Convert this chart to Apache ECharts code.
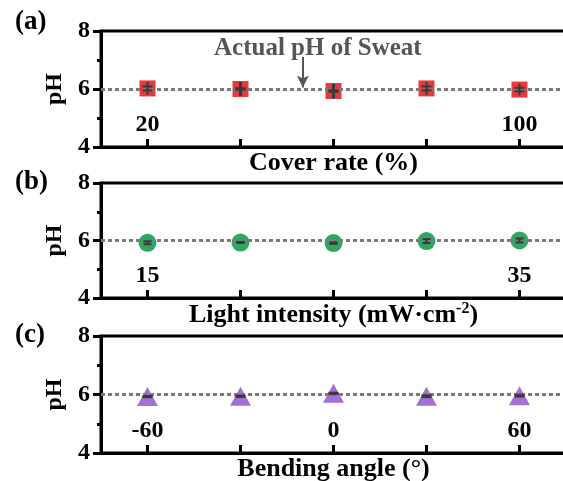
<!DOCTYPE html>
<html>
<head>
<meta charset="utf-8">
<script src="https://cdn.jsdelivr.net/npm/echarts@6/dist/echarts.min.js"></script>
<style>
  html, body { margin: 0; padding: 0; background: #fff; }
  #chart { width: 563px; height: 481px; }
</style>
</head>
<body>
<div id="chart"></div>
<script>
// (a) cover rate
var coverRate = [20, 40, 60, 80, 100];
var phCover = [6.02, 6.0, 5.93, 6.02, 5.98];
var capCover = [0.07, 0, 0, 0.07, 0.06];
var whiskCover = [0.22, 0.24, 0.26, 0.22, 0.2];
// (b) light intensity
var lightInt = [15, 20, 25, 30, 35];
var phLight = [5.92, 5.93, 5.91, 5.98, 6.0];
var capLight = [0.05, 0, 0, 0.07, 0.07];
// (c) bending angle
var bendAngle = [-60, -30, 0, 30, 60];
var phBend = [5.93, 5.94, 6.04, 5.94, 5.96];
var capBend = [0.02, 0.02, 0.02, 0.03, 0.03];

var FONT = 'Liberation Serif';
var txt = { fontFamily: FONT, fontWeight: 'bold', color: '#000', fontSize: 24 };

function errRender(capW) {
  return function (params, api) {
    var x = api.value(0), v = api.value(1), cap = api.value(2), whisk = api.value(3);
    var c = api.coord([x, v]);
    var t = api.coord([x, v + whisk]), b = api.coord([x, v - whisk]);
    var ct = api.coord([x, v + cap]), cb = api.coord([x, v - cap]);
    var st = { stroke: '#3a3a3a', lineWidth: cap === 0 ? 3 : 2 };
    return {
      type: 'group',
      children: [
        { type: 'line', shape: { x1: c[0], y1: t[1], x2: c[0], y2: b[1] }, style: st },
        { type: 'line', shape: { x1: c[0] - capW, y1: ct[1], x2: c[0] + capW, y2: ct[1] }, style: st },
        { type: 'line', shape: { x1: c[0] - capW, y1: cb[1], x2: c[0] + capW, y2: cb[1] }, style: st }
      ]
    };
  };
}

function xAxis(i, min, max, ticks, labels, name, rich) {
  return {
    type: 'value', gridIndex: i, min: min, max: max,
    name: name, nameLocation: 'middle', nameGap: 3,
    nameTextStyle: Object.assign({}, txt, { fontSize: 26, verticalAlign: 'top', rich: rich }),
    axisLine: { show: true, onZero: false, lineStyle: { color: '#000', width: 3 } },
    axisTick: { show: true, inside: true, length: 8, customValues: ticks, lineStyle: { color: '#000', width: 3 } },
    axisLabel: Object.assign({}, txt, { inside: true, margin: 10, customValues: labels }),
    splitLine: { show: false }
  };
}

function yAxis(i) {
  return {
    type: 'value', gridIndex: i, min: 4, max: 8, interval: 2,
    name: 'pH', nameLocation: 'middle', nameRotate: 90, nameGap: 34,
    nameTextStyle: Object.assign({}, txt, { fontSize: 24 }),
    axisLine: { show: true, onZero: false, lineStyle: { color: '#000', width: 3 } },
    axisTick: { show: true, length: 8, lineStyle: { color: '#000', width: 3 } },
    minorTick: { show: true, splitNumber: 2, length: 4, lineStyle: { color: '#000', width: 3 } },
    axisLabel: Object.assign({}, txt, { margin: 11 }),
    splitLine: { show: false }, minorSplitLine: { show: false }
  };
}

function dotted(extra) {
  var data = [{ yAxis: 6, lineStyle: { type: [4, 3], color: '#7a7a7a', width: 3 } }];
  if (extra) data.push(extra);
  return { silent: true, symbol: 'none', label: { show: false }, data: data };
}

function grid(top, height) {
  return { left: 101, top: top, width: 465, height: height, outerBoundsMode: 'none',
           show: true, borderColor: '#000', borderWidth: 3 };
}

var myChart = echarts.init(document.getElementById('chart'));
var option = {
  backgroundColor: '#fff',
  animation: false,
  title: [
    { text: '(a)', left: 10, top: 4, textStyle: Object.assign({}, txt, { fontSize: 27 }) },
    { text: '(b)', left: 10, top: 164, textStyle: Object.assign({}, txt, { fontSize: 27 }) },
    { text: '(c)', left: 10, top: 317, textStyle: Object.assign({}, txt, { fontSize: 27 }) },
    { text: 'Actual pH of Sweat', left: 209, top: 31, textStyle: Object.assign({}, txt, { color: '#555', fontSize: 25 }) }
  ],
  grid: [grid(31, 116), grid(183, 115), grid(336, 117)],
  xAxis: [
    xAxis(0, 10, 110, coverRate, [20, 100], 'Cover rate (%)'),
    xAxis(1, 12.5, 37.5, lightInt, [15, 35], '{a|Light intensity (mW·cm}{s|-2}{a|)}', {
      a: Object.assign({}, txt, { fontSize: 26 }),
      s: Object.assign({}, txt, { fontSize: 16, padding: [0, 0, 13, 0] })
    }),
    xAxis(2, -75, 75, bendAngle, [-60, 0, 60], 'Bending angle (°)')
  ],
  yAxis: [yAxis(0), yAxis(1), yAxis(2)],
  series: [
    {
      type: 'scatter', xAxisIndex: 0, yAxisIndex: 0, symbol: 'rect', symbolSize: 16,
      itemStyle: { color: '#e63a3c', opacity: 1 },
      data: coverRate.map(function (x, k) { return [x, phCover[k]]; }),
      markLine: dotted([
        { coord: [53.4, 7.1], symbol: 'none', lineStyle: { type: 'solid', color: '#555', width: 2 } },
        { coord: [53.4, 6.05], symbol: 'arrow', symbolSize: [9, 12] }
      ])
    },
    {
      type: 'custom', coordinateSystem: 'cartesian2d', xAxisIndex: 0, yAxisIndex: 0, z: 5, renderItem: errRender(5),
      data: coverRate.map(function (x, k) { return [x, phCover[k], capCover[k], whiskCover[k]]; })
    },
    {
      type: 'scatter', xAxisIndex: 1, yAxisIndex: 1, symbol: 'circle', symbolSize: 18,
      itemStyle: { color: '#33a562', opacity: 1 },
      data: lightInt.map(function (x, k) { return [x, phLight[k]]; }),
      markLine: dotted()
    },
    {
      type: 'custom', coordinateSystem: 'cartesian2d', xAxisIndex: 1, yAxisIndex: 1, z: 5, renderItem: errRender(4),
      data: lightInt.map(function (x, k) { return [x, phLight[k], capLight[k], capLight[k]]; })
    },
    {
      type: 'scatter', xAxisIndex: 2, yAxisIndex: 2, symbol: 'triangle', symbolSize: [21, 19],
      itemStyle: { color: '#a46fd6', opacity: 1 },
      data: bendAngle.map(function (x, k) { return [x, phBend[k]]; }),
      markLine: dotted()
    },
    {
      type: 'custom', coordinateSystem: 'cartesian2d', xAxisIndex: 2, yAxisIndex: 2, z: 5, renderItem: errRender(5),
      data: bendAngle.map(function (x, k) { return [x, phBend[k], capBend[k], capBend[k]]; })
    }
  ]
};
myChart.setOption(option);
</script>
</body>
</html>
